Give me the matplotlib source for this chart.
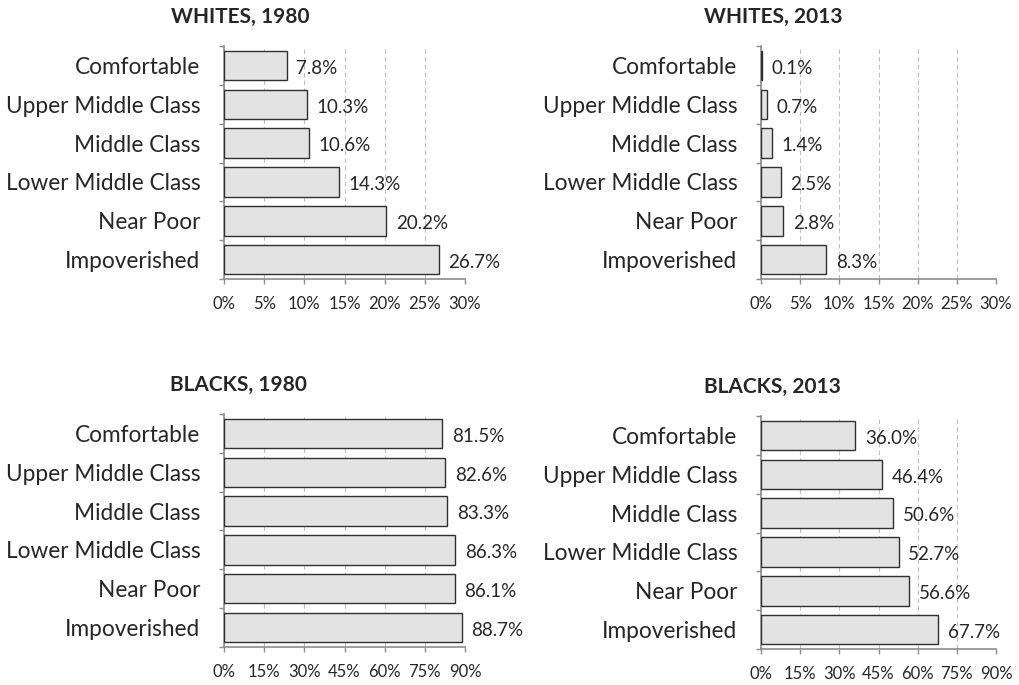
import matplotlib
matplotlib.use('Agg')
import matplotlib.pyplot as plt
import numpy as np

plt.rcParams['font.family'] = ['Lato', 'DejaVu Sans']

# data (top to bottom as shown)
categories = ['Comfortable', 'Upper Middle Class', 'Middle Class',
              'Lower Middle Class', 'Near Poor', 'Impoverished']
whites_1980 = [7.8, 10.3, 10.6, 14.3, 20.2, 26.7]
whites_2013 = [0.1, 0.7, 1.4, 2.5, 2.8, 8.3]
blacks_1980 = [81.5, 82.6, 83.3, 86.3, 86.1, 88.7]
blacks_2013 = [36.0, 46.4, 50.6, 52.7, 56.6, 67.7]
white_ticks = [0, 5, 10, 15, 20, 25, 30]
black_ticks = [0, 15, 30, 45, 60, 75, 90]

TEXT = '#262626'
AXIS = '#8c8c8c'

fig = plt.figure(figsize=(10.2, 6.85), dpi=100)

panels = [
    ('WHITES, 1980', whites_1980, white_ticks, [0.2196, 0.5927, 0.2363, 0.3401], 0.066),
    ('WHITES, 2013', whites_2013, white_ticks, [0.7461, 0.5927, 0.2304, 0.3401], 0.051),
    ('BLACKS, 1980', blacks_1980, black_ticks, [0.2196, 0.0555, 0.2363, 0.3401], 0.058),
    ('BLACKS, 2013', blacks_2013, black_ticks, [0.7461, 0.0525, 0.2304, 0.3401], 0.047),
]

for title, values, ticks, rect, tx in panels:
    ax = fig.add_axes(rect)
    n = len(categories)
    ypos = np.arange(n)[::-1]  # first category on top
    bars = ax.barh(ypos, values, height=0.76, color='#e3e3e3',
                   edgecolor='#303030', linewidth=1.0, zorder=3)

    for bar, val in zip(bars, values):
        ax.annotate(f'{val:.1f}%', (bar.get_width(), bar.get_y() + bar.get_height() / 2),
                    xytext=(7, -2), textcoords='offset points',
                    ha='left', va='center', fontsize=13.5, color=TEXT, zorder=4)

    ax.set_xlim(ticks[0], ticks[-1])
    ax.set_ylim(-0.5, n - 0.5)
    ax.set_xticks(ticks)
    ax.set_xticklabels([f'{t}%' for t in ticks], fontsize=12, color=TEXT)
    ax.set_yticks(ypos)
    ax.set_yticklabels(categories, fontsize=16.3, color=TEXT)
    ax.set_yticks(np.arange(-0.5, n, 1.0), minor=True)

    ax.tick_params(axis='y', which='major', length=0, pad=17)
    ax.tick_params(axis='y', which='minor', length=3.5, color=AXIS, width=1)
    ax.tick_params(axis='x', which='major', length=3.5, color=AXIS, width=1, pad=9)

    ax.grid(axis='x', color='#bfbfbf', linestyle=(0, (4, 3)), linewidth=0.8, zorder=0)
    ax.set_axisbelow(True)

    for side in ('top', 'right'):
        ax.spines[side].set_visible(False)
    for side in ('left', 'bottom'):
        ax.spines[side].set_color(AXIS)
        ax.spines[side].set_linewidth(1.2)

    ax.text(tx, 1.125, title, transform=ax.transAxes, ha='center', va='center',
            fontsize=15, fontweight='bold', color=TEXT)

fig.savefig('out.png', dpi=100)
